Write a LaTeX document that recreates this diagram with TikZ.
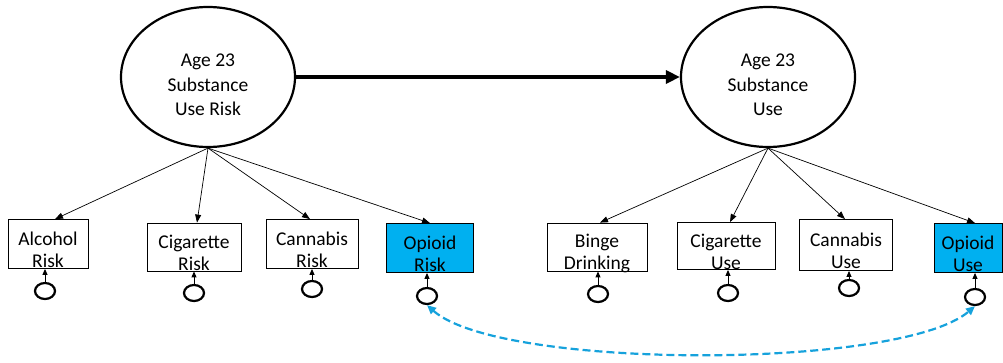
\documentclass[tikz,border=0pt]{standalone}
\usepackage{fontspec}
\setmainfont{Carlito}
\usetikzlibrary{shapes.geometric,arrows.meta}
\definecolor{opioidfill}{HTML}{00B0F0}
\definecolor{corrblue}{HTML}{16A2DC}
\tikzset{
  latent/.style={ellipse, draw, line width=2.2pt, minimum width=174pt, minimum height=140pt, inner sep=0pt},
  latenttxt/.style={align=center, font=\fontsize{19.5}{24.5}\selectfont},
  indicator/.style={rectangle, draw, line width=0.8pt, inner sep=0pt},
  indtxt/.style={align=center, font=\fontsize{19.5}{22}\selectfont, inner sep=0pt},
  errterm/.style={ellipse, draw, line width=2.2pt, minimum width=20pt, minimum height=16pt, inner sep=0pt},
  loading/.style={-{Triangle[length=8pt,width=6pt]}, line width=0.7pt},
  errarrow/.style={-{Triangle[length=6pt,width=5pt]}, line width=0.9pt},
  regress/.style={-{Triangle[length=14pt,width=13pt]}, line width=3.2pt},
  corr/.style={{Triangle[length=9pt,width=8pt]}-{Triangle[length=9pt,width=8pt]}, line width=2.2pt, corrblue, dash pattern=on 8pt off 4pt}
}
\begin{document}
\begin{tikzpicture}[x=1pt,y=-1pt]
\useasboundingbox (0,0) rectangle (1003,362);

% latent factors
\node[latent] (risk) at (208,77) {};
\node[latenttxt] (risk-t) at (208,85) {Age 23\\Substance\\Use Risk};
\node[latent] (use) at (768,77) {};
\node[latenttxt] (use-t) at (768,85) {Age 23\\Substance\\Use};

% structural path
\draw[regress] (risk.east) -- (use.west);

% risk indicators
\node[indicator, minimum width=80pt, minimum height=49pt] (alc) at (48,244) {};
\node[indicator, minimum width=94pt, minimum height=48pt] (cigr) at (194,247) {};
\node[indicator, minimum width=92pt, minimum height=49pt] (canr) at (312,244) {};
\node[indicator, fill=opioidfill, minimum width=87pt, minimum height=49pt] (opr) at (430,248) {};

% use indicators
\node[indicator, minimum width=100pt, minimum height=48pt] (binge) at (597,247) {};
\node[indicator, minimum width=98pt, minimum height=47pt] (cigu) at (726,246) {};
\node[indicator, minimum width=93pt, minimum height=51pt] (canu) at (846,245) {};
\node[indicator, fill=opioidfill, minimum width=68pt, minimum height=49pt] (opu) at (968,248) {};

% indicator labels, set slightly below the box centre
\node[indtxt] (alc-t) at ([yshift=-6]alc.center) {Alcohol\\Risk};
\node[indtxt] (cigr-t) at ([yshift=-6]cigr.center) {Cigarette\\Risk};
\node[indtxt] (canr-t) at ([yshift=-6]canr.center) {Cannabis\\Risk};
\node[indtxt] (opr-t) at ([yshift=-6]opr.center) {Opioid\\Risk};
\node[indtxt] (binge-t) at ([yshift=-6]binge.center) {Binge\\Drinking};
\node[indtxt] (cigu-t) at ([yshift=-6]cigu.center) {Cigarette\\Use};
\node[indtxt] (canu-t) at ([yshift=-6]canu.center) {Cannabis\\Use};
\node[indtxt] (opu-t) at ([yshift=-6]opu.center) {Opioid\\Use};

% factor loadings
\draw[loading] (risk.south) -- ([xshift=7]alc.north);
\draw[loading] (risk.south) -- ([xshift=3]cigr.north);
\draw[loading] (risk.south) -- ([xshift=-2]canr.north);
\draw[loading] (risk.south) -- (opr.north);
\draw[loading] (use.south) -- ([xshift=3]binge.north);
\draw[loading] (use.south) -- ([xshift=4]cigu.north);
\draw[loading] (use.south) -- ([xshift=-1]canu.north);
\draw[loading] (use.south) -- ([xshift=7]opu.north);

% residual terms
\node[errterm] (e1) at (45,291) {};
\node[errterm] (e2) at (194,293) {};
\node[errterm] (e3) at (312,289) {};
\node[errterm] (e4) at (427,296) {};
\node[errterm] (e5) at (598,294) {};
\node[errterm] (e6) at (728,293) {};
\node[errterm] (e7) at (849,288) {};
\node[errterm] (e8) at (975,297) {};
\draw[errarrow] (e1.north) -- (e1.north |- alc.south);
\draw[errarrow] (e2.north) -- (e2.north |- cigr.south);
\draw[errarrow] (e3.north) -- (e3.north |- canr.south);
\draw[errarrow] (e4.north) -- (e4.north |- opr.south);
\draw[errarrow] (e5.north) -- (e5.north |- binge.south);
\draw[errarrow] (e6.north) -- (e6.north |- cigu.south);
\draw[errarrow] (e7.north) -- (e7.north |- canu.south);
\draw[errarrow] (e8.north) -- (e8.north |- opu.south);

% residual covariance between the opioid measures
\draw[corr] (e4.south) .. controls (500,370) and (900,370) .. (e8.south);
\end{tikzpicture}
\end{document}
